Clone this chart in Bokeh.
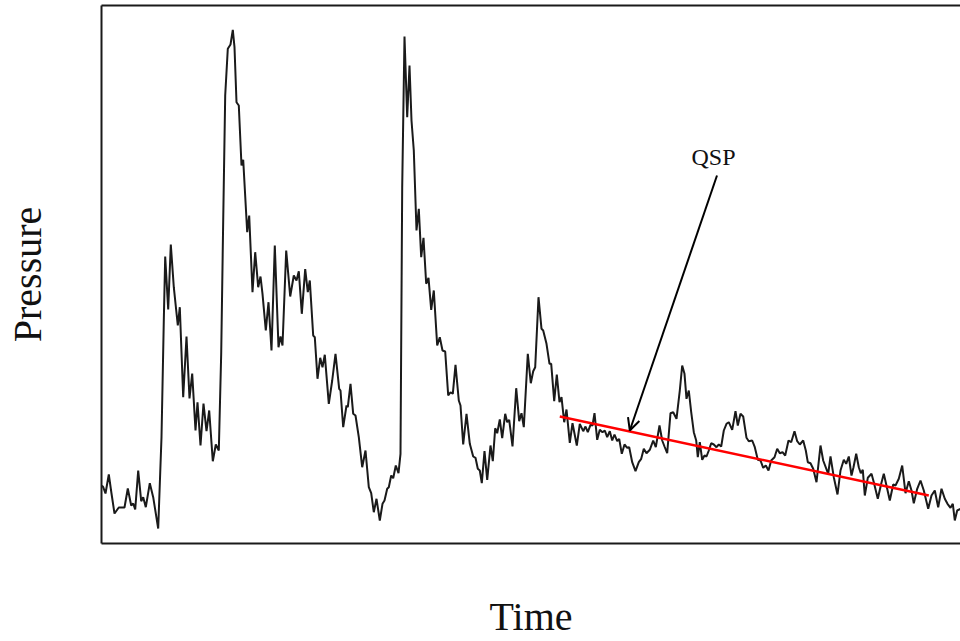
from bokeh.plotting import figure
from bokeh.models import Range1d, LinearAxis, FixedTicker, Label, Arrow, OpenHead
from bokeh.embed import file_html
from bokeh.resources import INLINE

# Pressure trace (arbitrary units)
time = [0.5, 1.7, 4, 7.3, 10, 13, 17.3, 23, 26.3, 29.7, 31.7, 33.7, 36.7, 39.7, 41.7, 44.3,
        48.3, 51.7, 56.7, 60, 62.3, 63.7, 66.7, 69.3, 72.3, 76.3, 78.3, 81.7, 85, 88, 90.7,
        94, 96, 99, 102, 105, 107.7, 111.3, 114.3, 117.3, 119.7, 121.7, 123.7, 126.3, 129,
        131.3, 133, 135, 137.3, 140, 141.7, 145.7, 147.7, 151, 153.7, 156.7, 159, 161, 164.3,
        167, 170, 173.3, 177, 179, 181, 184.7, 188.7, 192.3, 195, 197.3, 200.3, 203.7, 206.3,
        208.3, 211.7, 213.3, 216, 218.7, 221, 223.3, 227.3, 230.7, 234, 237.7, 239, 241.7,
        245, 246.3, 249, 251.7, 254, 257.3, 260.7, 264, 267.3, 269.7, 272.3, 275, 278.3, 281,
        283, 285.7, 287.3, 289.7, 291.7, 294.3, 297, 299, 300.7, 303, 305.7, 308, 310, 312.3,
        315, 317.3, 319.7, 322, 324.7, 327, 329.7, 332.3, 335.7, 338.3, 341, 343.7, 346.7,
        349, 351.3, 354, 357.3, 359, 361.7, 365, 368.3, 371.7, 374, 376.3, 378.3, 380.3, 383,
        385.7, 389, 391.3, 393.7, 395.7, 398.3, 400.7, 403.7, 405.7, 407.7, 411, 414.7, 417.7,
        420, 422.3, 426.3, 429.3, 431.7, 433.7, 437, 440, 441.7, 445, 448, 449.7, 452.7,
        455.3, 458, 460, 462.7, 465, 468.3, 471, 475.3, 478.3, 481.7, 484, 486.3, 489, 491,
        493, 495.7, 498.3, 501, 503.3, 505.7, 508.3, 510.7, 513, 515.7, 517.7, 520.3, 523,
        525.7, 527.7, 530.7, 534, 537.3, 539.7, 542.3, 545, 548.3, 551.7, 554.3, 558, 560.7,
        563, 565.7, 569, 571.7, 575, 578.3, 580.7, 583, 585, 587.3, 589.7, 592.3, 594.7,
        596.3, 598.3, 600.7, 603, 605, 607.3, 609.7, 612.3, 615, 617.3, 619.7, 622.3, 625,
        627.3, 630.7, 634, 636.3, 639, 641.7, 645, 647.3, 650.7, 653.3, 656.3, 659, 661.7,
        664.3, 667, 669.7, 673, 675.7, 678.3, 681, 683.7, 687, 689.7, 693, 695.7, 698.3,
        701.7, 704.3, 706.3, 709, 711.7, 715, 719, 721.7, 726.7, 729, 732.3, 736, 739, 742.3,
        744.7, 747.3, 750, 752, 754.7, 757.3, 759.3, 761.3, 763.3, 766.3, 770, 772.3, 776.3,
        779.7, 782.3, 785.7, 788.3, 791.7, 794, 797.3, 800.7, 804, 807.3, 810, 812.3, 815.7,
        819, 822.3, 826.7, 830, 833.3, 836.7, 840, 843.3, 846, 849, 851.3, 853.3, 855.7, 859]

pressure = [58, 56.3, 50, 69, 50, 30, 36, 36, 55, 38, 40, 34, 73, 42.3, 46.3, 36.3,
            60.3, 46.3, 15, 106.3, 223, 287, 234, 299, 256.3, 218, 236.3, 146.3, 207, 145, 170,
            113, 141.3, 98, 140, 112.3, 133, 82.3, 99, 93, 190, 323, 448, 494.7, 499,
            513.7, 496.3, 441.3, 438, 378, 383.7, 311.3, 328, 251.3, 291.3, 256.3, 267, 249.7, 213,
            241.3, 193, 298, 196.3, 207, 198, 293, 247, 268, 263, 272.3, 229.7, 274.3, 251.3,
            263, 208, 206.3, 164.7, 185.7, 176.3, 188.7, 139.7, 163, 189.7, 154.7, 153, 116.3,
            138, 136.3, 159.7, 129.7, 128, 106.3, 76.3, 93, 56.3, 50.3, 31.3, 44.7, 23, 39.7,
            43, 54.7, 56.3, 68, 65.3, 78, 70.3, 89.7, 356.3, 507, 426.3, 478, 423, 393,
            313, 334.7, 286.3, 305.7, 259.7, 265.7, 233.7, 253, 198, 206.3, 193, 192, 148,
            151.3, 149.7, 178.7, 143, 138, 99, 129.7, 99.7, 87, 85.7, 74.7, 73, 60.3, 92.3,
            63.7, 98, 82.3, 115.3, 110.3, 124, 105.3, 129.7, 121.3, 123.7, 97, 155.3, 122.3,
            130.3, 116.3, 189.7, 160.3, 172.3, 176.3, 246.3, 214.7, 213, 199.7, 179.7, 179.7, 142.3,
            169, 141.3, 146.3, 121.3, 134, 100.7, 120.3, 98, 119.7, 112.3, 117, 111.3, 118.7, 118,
            130.3, 103.7, 113.7, 111.3, 113, 106.3, 112.3, 103, 109, 102.3, 104.7, 89.7, 99,
            95.7, 96.3, 81.3, 72.3, 81.3, 84.7, 94.7, 90.3, 93.7, 103, 96.3, 118, 103,
            97, 90.3, 130.3, 131.3, 124.7, 153, 178, 169.7, 144.7, 153, 131.3, 111.3, 103,
            86.3, 101.3, 83.7, 88, 87, 93, 100.3, 99, 96.3, 99, 97, 113, 119.7,
            121.3, 113.7, 132.3, 118, 129.7, 127, 105.7, 102.3, 103, 96.3, 83.7, 83, 75.7,
            78, 73, 83, 86.3, 94.7, 90.3, 91.3, 88, 103, 101.3, 112.3, 102.3, 99,
            103, 93, 81.3, 80.3, 74.7, 61.3, 98, 83, 69.7, 87, 66.3, 49, 73, 83.7,
            79.7, 87, 68, 76.3, 89.7, 76.3, 70.3, 73.7, 48, 65.7, 69.7, 61.3, 44.7,
            59.7, 69.7, 54.7, 43, 59, 58, 64.7, 78, 50.3, 62.3, 53, 40.3, 54.7,
            63, 53, 34.7, 48, 53, 36.3, 54.7, 44.7, 39.7, 35.7, 39.7, 23, 33, 34.7]

# Quasi-steady pressure (QSP) trend line
qsp_time = [458.3, 827.3]
qsp_pressure = [127, 48]

# Annotation
qsp_text = "QSP"
qsp_text_pos = (612, 387)
arrow_from = (615.5, 368)
arrow_to = (528.3, 113)

x_label = "Time"
y_label = "Pressure"

p = figure(width=960, height=641, output_backend="svg", toolbar_location=None,
           x_range=Range1d(0, 859), y_range=Range1d(0, 538),
           min_border_left=101, min_border_right=0, min_border_top=5, min_border_bottom=98,
           tools="")
p.grid.visible = False
p.outline_line_color = None
p.background_fill_color = "white"
p.border_fill_color = "white"

for ax in p.xaxis + p.yaxis:
    ax.ticker = FixedTicker(ticks=[])
    ax.major_tick_line_color = None
    ax.minor_tick_line_color = None
    ax.axis_line_width = 2
    ax.axis_line_color = "#1a1a1a"
    ax.axis_label_text_font = "Liberation Serif"
    ax.axis_label_text_font_size = "40px"
    ax.axis_label_text_font_style = "normal"
    ax.axis_label_text_color = "#111111"

p.xaxis.axis_label = x_label
p.yaxis.axis_label = y_label
p.xaxis.axis_label_standoff = 50
p.yaxis.axis_label_standoff = 52

top_axis = LinearAxis(ticker=FixedTicker(ticks=[]), major_tick_line_color=None,
                      minor_tick_line_color=None, axis_line_width=2, axis_line_color="#1a1a1a")
p.add_layout(top_axis, "above")

p.line(time, pressure, line_color="#1a1a1a", line_width=2)
p.line(qsp_time, qsp_pressure, line_color="#ff0000", line_width=2.5)

p.add_layout(Arrow(end=OpenHead(size=12, line_width=2, line_color="black"),
                   x_start=arrow_from[0], y_start=arrow_from[1],
                   x_end=arrow_to[0], y_end=arrow_to[1],
                   line_width=2, line_color="black"))

p.add_layout(Label(x=qsp_text_pos[0], y=qsp_text_pos[1], text=qsp_text,
                   text_font="Liberation Serif", text_font_size="24px",
                   text_align="center", text_baseline="middle", text_color="#111111"))

open("out.html", "w").write(file_html(p, INLINE))
